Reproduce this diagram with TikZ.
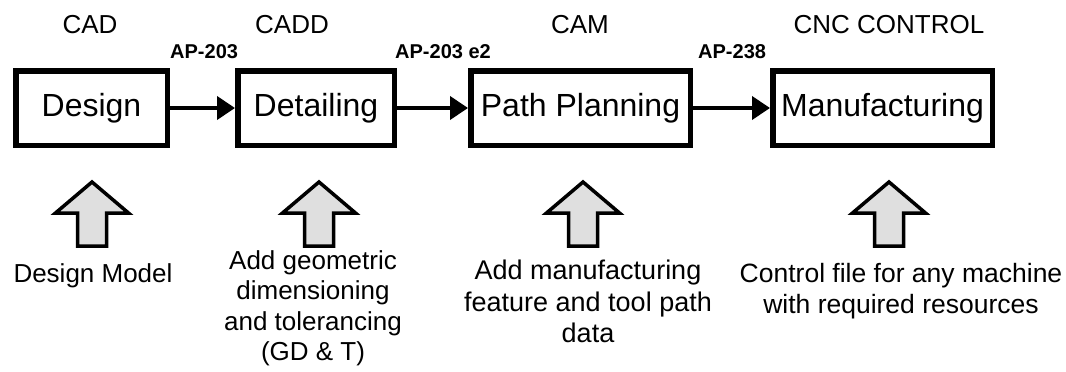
\documentclass[tikz,border=0pt]{standalone}
\usepackage{fontspec}
\setmainfont{Liberation Sans}
\usetikzlibrary{arrows.meta}
\begin{document}
\begin{tikzpicture}[x=1pt,y=-1pt,
  stage/.style={draw,line width=5.5pt,minimum height=74.5pt,inner sep=0pt,
    font=\fontsize{32}{38}\selectfont},
  phase/.style={anchor=base,font=\fontsize{26}{30}\selectfont},
  proto/.style={anchor=base west,inner sep=0pt,font=\fontsize{20}{24}\selectfont\bfseries},
  note/.style={anchor=north,align=center,inner sep=0pt,font=\fontsize{26}{30.5}\selectfont},
  conn/.style={line width=4pt,-{Triangle[length=18pt,width=23pt]}},
  uparrow/.style={draw,line width=3.5pt,fill=gray!25,line join=miter}]
\useasboundingbox (0,0) rectangle (1066,372);
% stage boxes
\node[stage,minimum width=151.5pt] (design) at (91.5,108) {Design};
\node[stage,minimum width=156.5pt] (detailing) at (316,108) {Detailing};
\node[stage,minimum width=219.5pt] (planning) at (580.5,108) {Path Planning};
\node[stage,minimum width=219.5pt] (manuf) at (882.5,108) {Manufacturing};
% connectors
\draw[conn] (design) -- (detailing);
\draw[conn] (detailing) -- (planning);
\draw[conn] (planning) -- (manuf);
% phase titles
\node[phase] (tcad) at (90,33) {CAD};
\node[phase] (tcadd) at (292,33) {CADD};
\node[phase] (tcam) at (580,33) {CAM};
\node[phase] (tcnc) at (889,33) {CNC CONTROL};
% protocol labels
\node[proto] (p1) at (170,58) {AP-203};
\node[proto] (p2) at (395,58) {AP-203 e2};
\node[proto] (p3) at (698,58) {AP-238};
% up arrows
\foreach \cx/\nm in {92/ua1,319/ua2,583/ua3,889/ua4}{
  \draw[uparrow] (\cx,182) -- (\cx+36.5,213) -- (\cx+14.5,213) -- (\cx+14.5,246)
    -- (\cx-14.5,246) -- (\cx-14.5,213) -- (\cx-36.5,213) -- cycle;
}
% notes
\node[note] (n1) at (93,263) {Design Model};
\node[note] (n2) at (313,250) {Add geometric\\dimensioning\\and tolerancing\\(GD \& T)};
\node[note,font=\fontsize{27}{31.5}\selectfont] (n3) at (588,260) {Add manufacturing\\feature and tool path\\data};
\node[note,font=\fontsize{26.5}{31}\selectfont] (n4) at (901,263) {Control file for any machine\\with required resources};
\end{tikzpicture}
\end{document}
